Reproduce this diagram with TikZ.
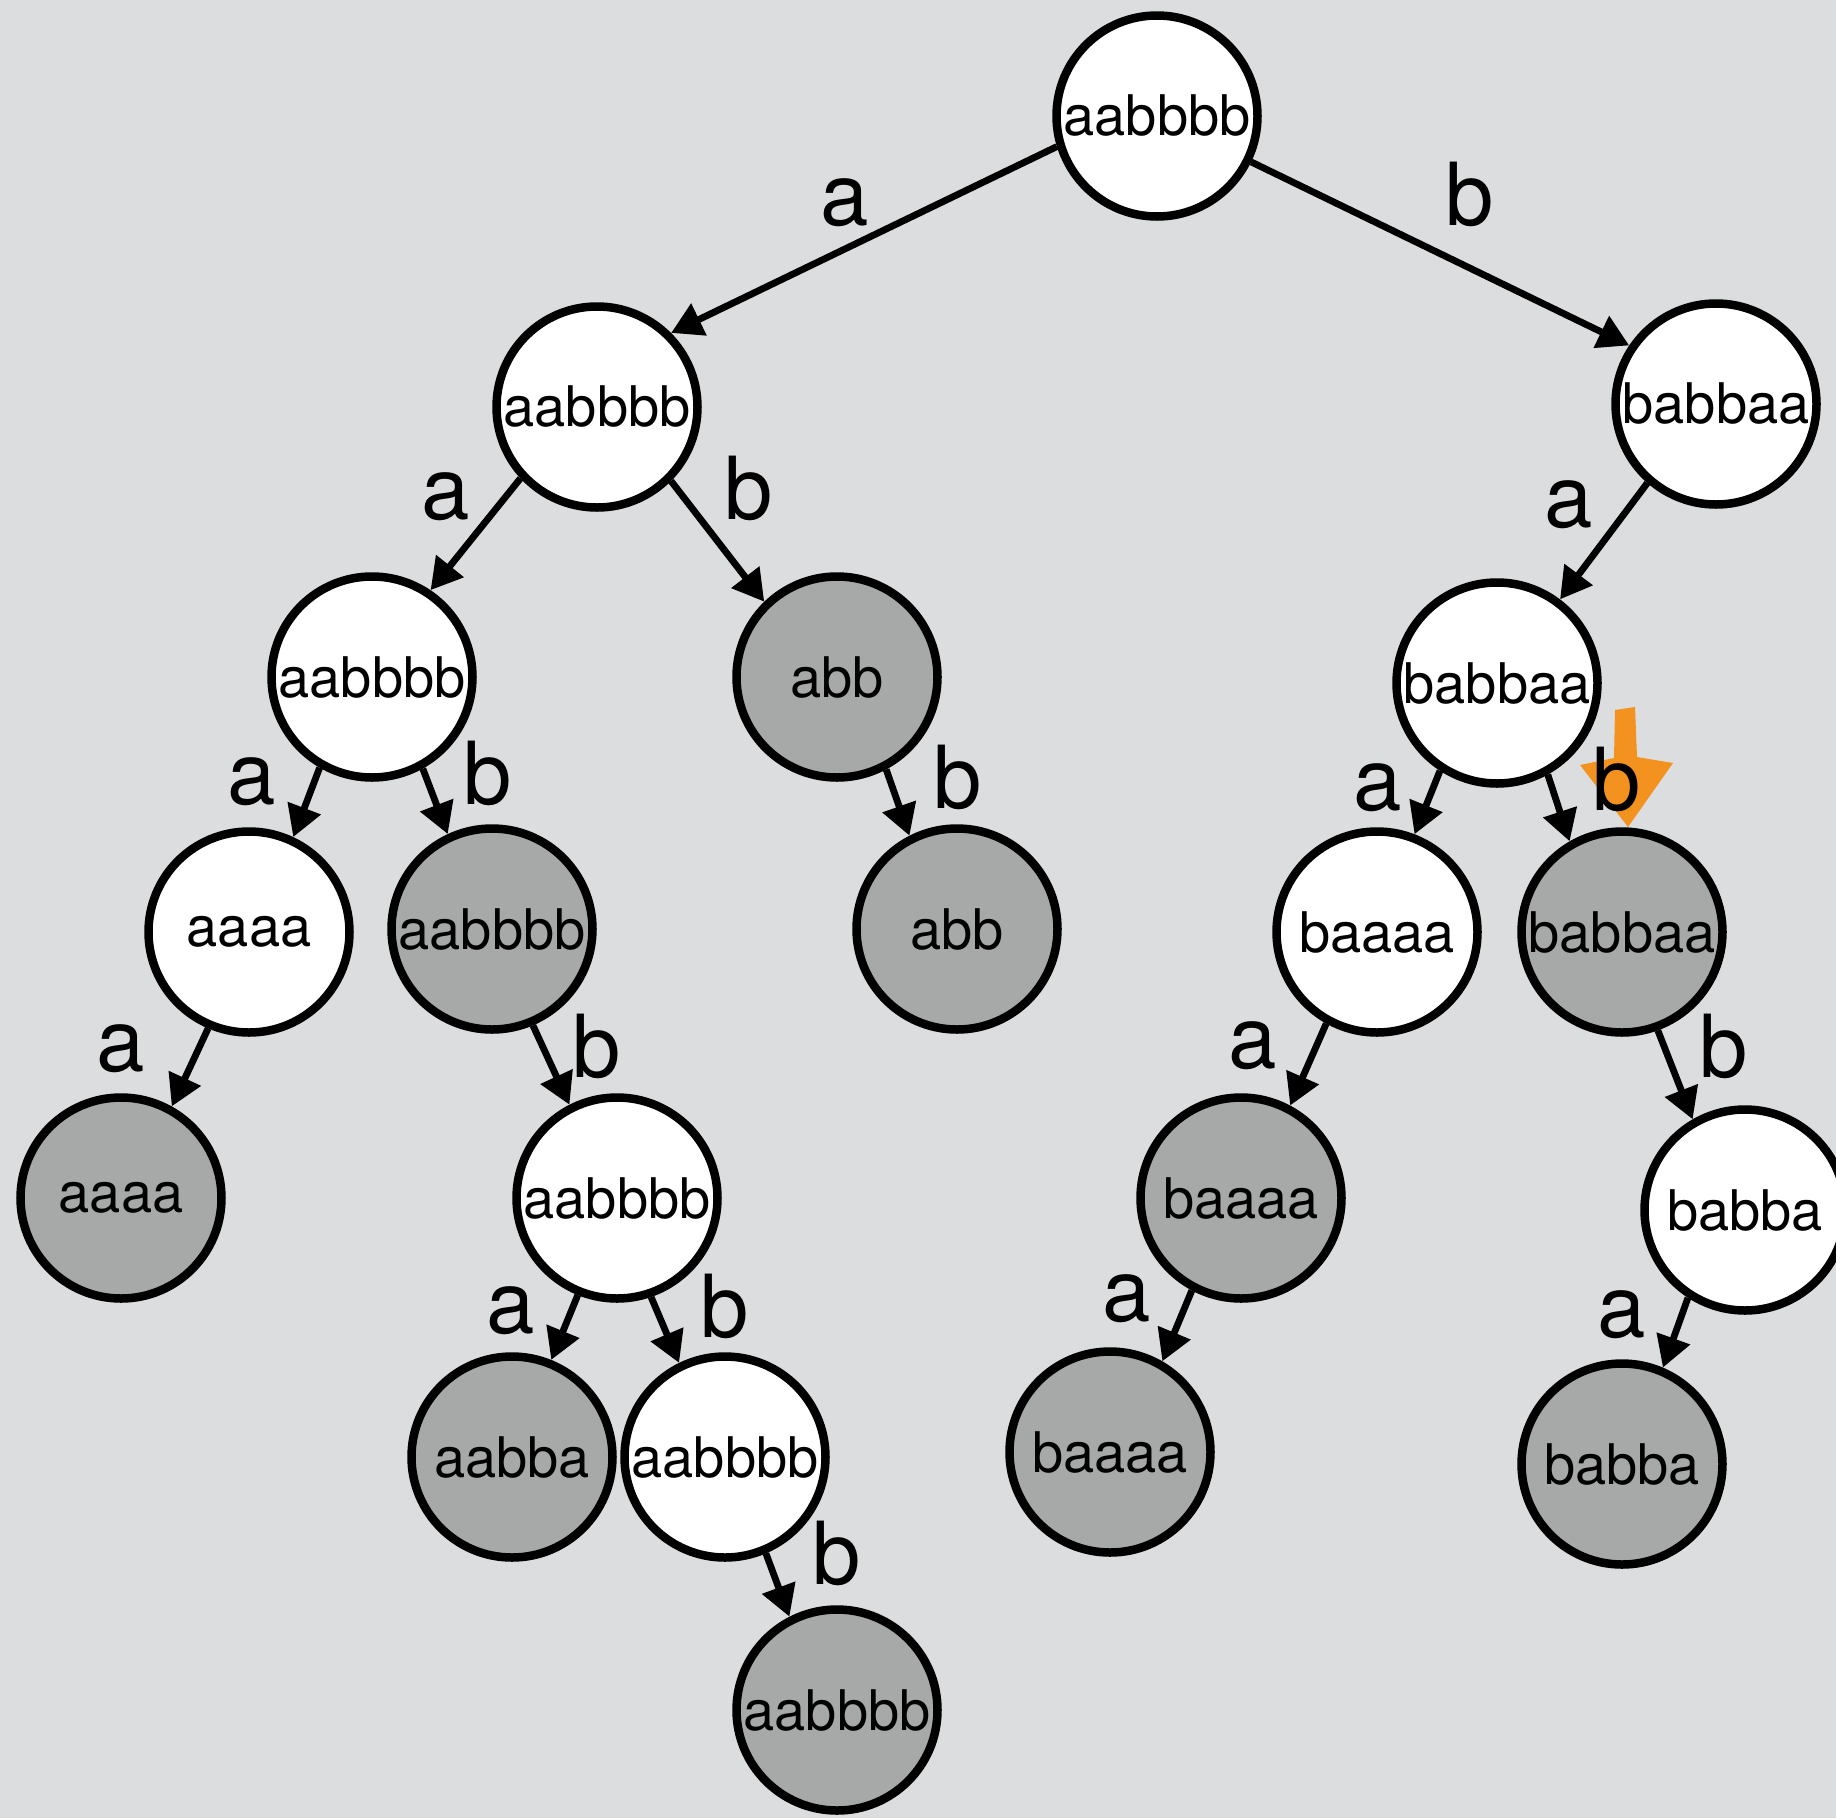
\documentclass[tikz,border=0pt]{standalone}
\usepackage{fontspec}
\setmainfont{TeX Gyre Heros}
\usetikzlibrary{arrows.meta,shadows}
\definecolor{bg}{RGB}{220,221,223}
\definecolor{nodegrey}{RGB}{166,169,168}
\definecolor{markorange}{RGB}{243,146,30}
\begin{document}
\begin{tikzpicture}[x=1pt,y=-1pt,
  st/.style={circle, draw=black, line width=8.5pt, minimum size=201pt, inner sep=0pt,
    font=\fontsize{56}{62}\selectfont,
    drop shadow={shadow xshift=1pt, shadow yshift=-4pt, opacity=0.18, fill=black}},
  wnode/.style={st, fill=white},
  gnode/.style={st, fill=nodegrey},
  edge/.style={line width=6.8pt, -{Triangle[length=31pt,width=34pt]}},
  lbl/.style={anchor=base, inner sep=0pt, font=\fontsize{87}{92}\selectfont}]
\fill[bg] (0,0) rectangle (1836,1818);
\useasboundingbox (0,0) rectangle (1836,1818);
% nodes
\node[wnode] (r)   at (1157,116)  {aabbbb};
\node[wnode] (n1)  at (597,407)   {aabbbb};
\node[wnode] (n2)  at (1716,404)  {babbaa};
\node[wnode] (n3)  at (372,677)   {aabbbb};
\node[gnode] (n4)  at (837,677)   {abb};
\node[wnode] (n5)  at (1497,683)  {babbaa};
\node[wnode] (n6)  at (249,932)   {aaaa};
\node[gnode] (n7)  at (492,929)   {aabbbb};
\node[gnode] (n8)  at (957,929)   {abb};
\node[wnode] (n9)  at (1377,932)  {baaaa};
\node[gnode] (n10) at (1622,932)  {babbaa};
\node[gnode] (n11) at (121,1198)  {aaaa};
\node[wnode] (n12) at (617,1198)  {aabbbb};
\node[gnode] (n13) at (1241,1198) {baaaa};
\node[wnode] (n14) at (1745,1210) {babba};
\node[gnode] (n15) at (512,1457)  {aabba};
\node[wnode] (n16) at (725,1457)  {aabbbb};
\node[gnode] (n17) at (1110,1452) {baaaa};
\node[gnode] (n18) at (1622,1464) {babba};
\node[gnode] (n19) at (837,1710)  {aabbbb};
% edges
\draw[edge] (r.197) -- (n1.45);
\draw[edge] (r.334) -- (n2.146);
\draw[edge] (n1.223) -- (n3.56);
\draw[edge] (n1.315) -- (n4.134);
\draw[edge] (n2.229) -- (n5.53);
\draw[edge] (n3.240) -- (n6.65);
\draw[edge] (n3.299) -- (n7.115);
\draw[edge] (n4.298) -- (n8.117);
\draw[edge] (n5.237) -- (n9.69);
\draw[edge] (n5.299) -- (n10.120);
\draw[edge] (n6.247) -- (n11.61);
\draw[edge] (n7.293) -- (n12.117);
\draw[edge] (n9.241) -- (n13.62);
\draw[edge] (n10.290) -- (n14.120);
\draw[edge] (n12.248) -- (n15.68);
\draw[edge] (n12.289) -- (n16.116);
\draw[edge] (n13.242) -- (n17.60);
\draw[edge] (n14.237) -- (n18.67);
\draw[edge] (n16.293) -- (n19.117);
% orange marker
\fill[markorange] (1615,710) -- (1635,707) -- (1637,757) -- (1673,763) -- (1628,827) -- (1580,765) -- (1614,758) -- cycle;
% edge labels
\node[lbl] (la0)  at (845,225)   {a};
\node[lbl] (lb0)  at (1470,225)  {b};
\node[lbl] (la1)  at (446,519)   {a};
\node[lbl] (lb1)  at (749,519)   {b};
\node[lbl] (la2)  at (1569,527)  {a};
\node[lbl] (la3)  at (252,804)   {a};
\node[lbl] (lb3)  at (488,804)   {b};
\node[lbl] (lb4)  at (958,808)   {b};
\node[lbl] (la5)  at (1378,810)  {a};
\node[lbl] (lb5)  at (1617,810)  {b};
\node[lbl] (la6)  at (121,1071)  {a};
\node[lbl] (lb7)  at (597,1077)  {b};
\node[lbl] (la9)  at (1253,1068) {a};
\node[lbl] (lb10) at (1724,1077) {b};
\node[lbl] (la12) at (511,1333)  {a};
\node[lbl] (lb12) at (725,1337)  {b};
\node[lbl] (la13) at (1127,1321) {a};
\node[lbl] (la14) at (1622,1337) {a};
\node[lbl] (lb16) at (837,1584)  {b};
\end{tikzpicture}
\end{document}
